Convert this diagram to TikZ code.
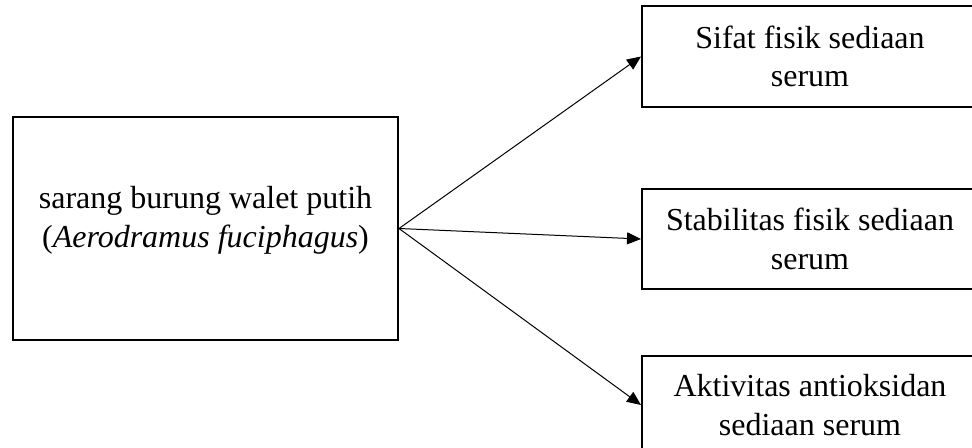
\documentclass[tikz,border=0pt]{standalone}
\usepackage{fontspec}
\setmainfont{Liberation Serif}
\usetikzlibrary{positioning}
\usetikzlibrary {arrows.meta}
\tikzset{sourcebox/.style={rectangle,draw=black,fill=white,line width=1pt,
inner sep=2pt,minimum height=111.5pt, minimum width=192.5pt,align=center,
text depth=11.5pt,font=\fontsize{16pt}{19.25pt}\selectfont}}
\tikzset{resultbox/.style={rectangle,draw=black,fill=white,line width=1pt,
inner sep=2pt,minimum height=50pt, minimum width=168pt,align=center,
font=\fontsize{16pt}{19.25pt}\selectfont}}

\begin{document}
\begin{tikzpicture}[x=0.5pt,y=-0.5pt]
        \useasboundingbox (0,0) rectangle (972,448);
        \clip (0,0) rectangle (972,448);

        \node[sourcebox] (sarang) at (205.5, 228.5) {sarang burung walet putih\\(\textit{Aerodramus fuciphagus})};

        \node[resultbox, minimum height=50.5pt] (sifat) at (810, 56.5) {Sifat fisik sediaan\\serum};
        \node[resultbox] (stabilitas) [below=40pt of sifat] {Stabilitas fisik sediaan\\serum};
        \node[resultbox, minimum height=49pt] (aktivitas) [below=32.5pt of stabilitas] {Aktivitas antioksidan\\sediaan serum};

        \draw [line width=0.5pt,-{Triangle[length=7pt,width=6pt]}] (sarang.east) -- (sifat.west);
        \draw [line width=0.5pt,-{Triangle[length=7pt,width=6pt]}] (sarang.east) -- (stabilitas.west);
        \draw [line width=0.5pt,-{Triangle[length=7pt,width=6pt]}] (sarang.east) -- (aktivitas.west);

    \end{tikzpicture}
\end{document}
